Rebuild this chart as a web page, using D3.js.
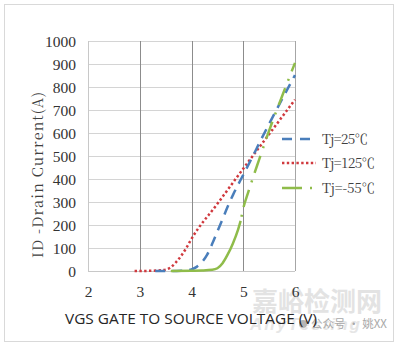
<!DOCTYPE html>
<html>
<head>
<meta charset="utf-8">
<script src="https://cdn.jsdelivr.net/npm/d3@7"></script>
<style>
  html, body { margin: 0; padding: 0; background: #fff; }
  svg { display: block; }
</style>
</head>
<body>
<svg id="chart" width="400" height="348"></svg>
<script>
// ---- data ----
const xTicks = [2, 3, 4, 5, 6];
const yTicks = [0, 100, 200, 300, 400, 500, 600, 700, 800, 900, 1000];
const seriesNames = ["Tj=25℃", "Tj=125℃", "Tj=-55℃"];

const vgs25 = [3.3, 3.6, 3.8, 3.9, 4.0, 4.1, 4.2, 4.3, 4.4, 4.5, 4.6, 4.7, 4.8, 4.9, 5.0, 5.5, 6.0];
const id25  = [0,   0,   1,   3,   7,   18,  38,  70,  118, 172, 225, 280, 330, 375, 418, 640, 852];

const vgs125 = [2.9, 3.0, 3.2, 3.4, 3.5, 3.6, 3.7, 3.8, 3.9, 4.0, 4.5, 5.0, 5.5, 6.0];
const id125  = [0,   0,   1,   3,   6,   16,  38,  66,  100, 140, 292, 445, 595, 745];

const vgsN55 = [3.6, 4.0, 4.2, 4.4, 4.5, 4.6, 4.7, 4.8, 4.9, 4.95, 5.0, 5.1, 5.3, 5.5, 5.75, 6.0];
const idN55  = [0,   1,   2,   5,   12,  34,  72,  120, 180, 218,  272, 345, 480, 610, 760, 905];

// ---- layout ----
const svg = d3.select("#chart");
const x = d3.scaleLinear().domain([2, 6]).range([88, 295]);
const y = d3.scaleLinear().domain([0, 1000]).range([271, 41]);
const SERIF = "Liberation Serif";
const CJKSERIF = "Noto Serif CJK SC";

// outer frame
svg.append("rect").attr("x", 4.5).attr("y", 4.5).attr("width", 389).attr("height", 337)
  .attr("fill", "#fff").attr("stroke", "#d9d9d9").attr("stroke-width", 1);

// watermark (behind)
const wm = svg.append("g");
wm.append("text").attr("x", 252).attr("y", 311)
  .attr("font-family", "Noto Sans CJK SC").attr("font-size", 26).attr("font-weight", "bold")
  .attr("fill", "#e3e3e3").attr("textLength", 130).attr("lengthAdjust", "spacingAndGlyphs")
  .text("嘉峪检测网");
wm.append("text").attr("x", 250).attr("y", 330)
  .attr("font-family", "Liberation Sans").attr("font-size", 17).attr("font-style", "italic")
  .attr("font-weight", "bold").attr("fill", "#e6e6e6").attr("letter-spacing", 2)
  .text("AnyTesting");
wm.append("circle").attr("cx", 303).attr("cy", 324).attr("r", 4).attr("fill", "#b5b5b5");
wm.append("text").attr("x", 311).attr("y", 328)
  .attr("font-family", "Noto Sans CJK SC").attr("font-size", 11.5)
  .attr("fill", "#a8a8a8").text("公众号 · 姚XX");

// grid
const grid = svg.append("g");
grid.selectAll("line.h").data(yTicks.filter(d => d > 0)).join("line")
  .attr("x1", x(2)).attr("x2", x(6)).attr("y1", d => y(d) + 0.5).attr("y2", d => y(d) + 0.5)
  .attr("stroke", "#d4d4d4").attr("stroke-width", 1);
grid.selectAll("line.v").data(xTicks.slice(1, -1)).join("line")
  .attr("x1", d => Math.round(x(d)) + 0.5).attr("x2", d => Math.round(x(d)) + 0.5)
  .attr("y1", y(1000)).attr("y2", y(0))
  .attr("stroke", "#8c8c8c").attr("stroke-width", 1);
// plot borders
grid.append("line").attr("x1", x(2) + 0.5).attr("x2", x(2) + 0.5).attr("y1", y(1000)).attr("y2", y(0))
  .attr("stroke", "#c8c8c8");
grid.append("line").attr("x1", Math.round(x(6)) + 0.5).attr("x2", Math.round(x(6)) + 0.5).attr("y1", y(1000)).attr("y2", y(0))
  .attr("stroke", "#a6a6a6");
grid.append("line").attr("x1", x(2)).attr("x2", x(6)).attr("y1", y(0) + 0.5).attr("y2", y(0) + 0.5)
  .attr("stroke", "#c8c8c8");

// axes (labels only)
const yAxis = svg.append("g").attr("transform", `translate(${x(2)},0)`)
  .call(d3.axisLeft(y).tickValues(yTicks).tickFormat(d3.format("d")).tickSize(0).tickPadding(12));
yAxis.attr("font-family", SERIF).attr("font-size", 15.5);
yAxis.select(".domain").remove();
yAxis.selectAll("text").attr("fill", "#333").attr("dy", "0.36em");

const xAxis = svg.append("g").attr("transform", `translate(0,${y(0)})`)
  .call(d3.axisBottom(x).tickValues(xTicks).tickFormat(d3.format("d")).tickSize(0).tickPadding(15));
xAxis.attr("font-family", SERIF).attr("font-size", 15.5);
xAxis.select(".domain").remove();
xAxis.selectAll("text").attr("fill", "#333");

// axis titles
svg.append("text").attr("transform", "translate(43,175) rotate(-90)")
  .attr("text-anchor", "middle").attr("font-family", CJKSERIF).attr("font-size", 14.5)
  .attr("fill", "#404040").attr("textLength", 166).attr("lengthAdjust", "spacing")
  .text("ID -Drain Current(A)");
svg.append("text").attr("x", 191).attr("y", 324)
  .attr("text-anchor", "middle").attr("font-family", "Open Sans").attr("font-size", 14.5)
  .attr("fill", "#262626").attr("textLength", 252).attr("lengthAdjust", "spacingAndGlyphs")
  .text("VGS GATE TO SOURCE VOLTAGE (V)");

// lines
const line = d3.line().x(d => x(d[0])).y(d => y(d[1])).curve(d3.curveMonotoneX);
const zip = (a, b) => a.map((v, i) => [v, b[i]]);

const colors = ["#4a7ebb", "#d0393e", "#8fbc4a"];
const plot = svg.append("g");

plot.append("path").datum(zip(vgs125, id125)).attr("d", line)
  .attr("fill", "none").attr("stroke", colors[1]).attr("stroke-width", 2.5)
  .attr("stroke-dasharray", "2.4,2.4");

plot.append("path").datum(zip(vgs25, id25)).attr("d", line)
  .attr("fill", "none").attr("stroke", colors[0]).attr("stroke-width", 2.5)
  .attr("stroke-dasharray", "10,7");

const n55 = zip(vgsN55, idN55);
const splitIdx = vgsN55.indexOf(4.95);
// solid lower part and dash-dot upper part of the same series
plot.append("path").datum(n55.slice(0, splitIdx + 1)).attr("d", line)
  .attr("fill", "none").attr("stroke", colors[2]).attr("stroke-width", 2.5);
plot.append("path").datum(n55.slice(splitIdx)).attr("d", line)
  .attr("fill", "none").attr("stroke", colors[2]).attr("stroke-width", 2.5)
  .attr("stroke-dasharray", "18,8,2,8").attr("stroke-dashoffset", 22);

// legend
const legY = [139, 163, 188];
const legDash = ["10,8", "2.4,2.4", "20,8,2,8"];
const leg = svg.append("g");
seriesNames.forEach((name, i) => {
  leg.append("line").attr("x1", 282).attr("x2", i === 0 ? 310 : (i === 1 ? 316 : 314))
    .attr("y1", legY[i]).attr("y2", legY[i])
    .attr("stroke", colors[i]).attr("stroke-width", 2.5).attr("stroke-dasharray", legDash[i]);
  leg.append("text").attr("x", 322).attr("y", legY[i]).attr("dy", "0.36em")
    .attr("font-family", CJKSERIF).attr("font-size", 13.5).attr("fill", "#404040")
    .attr("textLength", i === 0 ? 46 : 53).attr("lengthAdjust", "spacing")
    .text(name);
});
</script>
</body>
</html>
